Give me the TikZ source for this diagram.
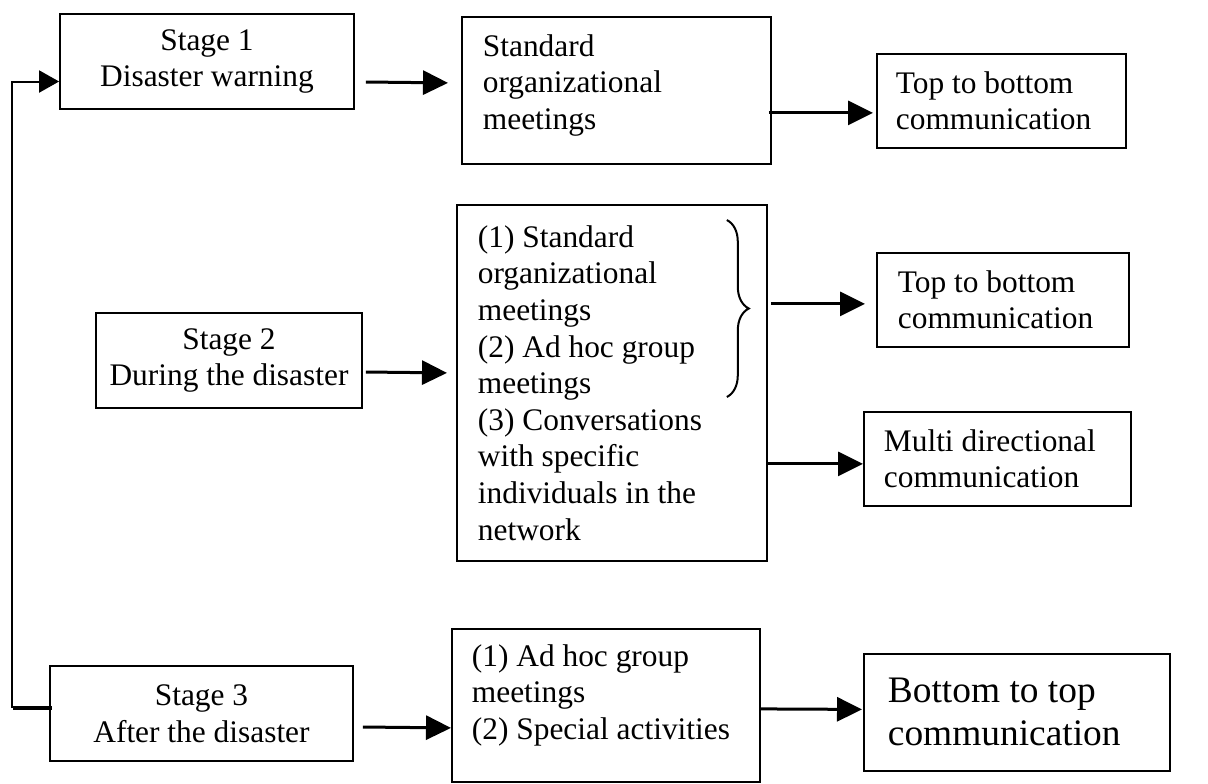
\documentclass[tikz,border=0pt]{standalone}
\usepackage{fontspec}
\setmainfont{Liberation Serif}
\usetikzlibrary{positioning}
\usetikzlibrary{arrows.meta}
\usetikzlibrary{decorations.pathreplacing}

\begin{document}
\begin{tikzpicture}[x=0.5pt,y=-0.5pt,
 box/.style={draw,line width=0.9pt,inner ysep=0pt,font=\fontsize{15.7pt}{18.3pt}\selectfont},
 stage/.style={box,align=center,inner xsep=0pt},
 list/.style={box,align=flush left,anchor=north west,inner xsep=10pt},
 arr/.style={line width=1.5pt,-{Triangle[length=12.5pt,width=12pt]}}]
 \useasboundingbox (0,0) rectangle (1208,783);
 % stages
 \node[stage,minimum width=147pt,minimum height=47.5pt] (s1) at (207,61.5) {Stage 1\\Disaster warning};
 \node[stage,minimum width=133pt,minimum height=47.5pt] (s2) at (229,360.5) {Stage 2\\During the disaster};
 \node[stage,minimum width=151.5pt,minimum height=47.5pt] (s3) at (201.5,713.5) {Stage 3\\After the disaster};
 % channels
 \node[list,inner xsep=10.5pt] (a1) at (461,16) {\parbox[c][73.5pt][t]{133.5pt}{\raggedright\vspace*{8.8pt}Standard\\organizational\\meetings}};
 \node[list,inner xsep=10.5pt,text width=134pt,minimum height=178pt] (a2) at (456,204) {(1) Standard\\organizational\\meetings\\(2) Ad hoc group\\meetings\\(3) Conversations\\with specific\\individuals in the\\network};
 \node[list] (a3) at (451,628) {\parbox[c][76.5pt][t]{134pt}{\raggedright\vspace*{7.8pt}(1) Ad hoc group\\meetings\\(2) Special activities}};
 % communication
 \node[list,inner xsep=9.5pt,text width=105.5pt,minimum height=47pt] (t1) at (876,53) {Top to bottom\\communication};
 \node[list,inner xsep=10.5pt,text width=105pt,minimum height=47pt] (t2) at (876,252) {Top to bottom\\communication};
 \node[list,text width=113.5pt,minimum height=47pt] (m2) at (863,411) {Multi directional\\communication};
 \node[list,inner xsep=12pt,text width=129pt,minimum height=58.5pt,font=\fontsize{18.7pt}{21.5pt}\selectfont] (b3) at (863,653) {Bottom to top\\communication};
 % arrows
 \draw[arr] ([shift={(11,20.5)}]s1.east) -- ([shift={(-13,-7.5)}]a1.west);
 \draw[arr] ([shift={(-3,22.5)}]a1.east) -- ([shift={(-3,12)}]t1.west);
 \draw[arr] ([shift={(3,11.5)}]s2.east) -- ([shift={(-9,-10)}]a2.west);
 \draw[line width=1pt,decorate,decoration={brace,amplitude=11pt}] ([shift={(-41,16)}]a2.north east) -- ([shift={(-41,193)}]a2.north east);
 \draw[arr] ([shift={(3,-79)}]a2.east) -- ([shift={(-11,4)}]t2.west);
 \draw[arr] ([shift={(-1,81)}]a2.east) -- ([shift={(0,5)}]m2.west);
 \draw[arr] ([shift={(9,13.5)}]s3.east) -- ([shift={(0,22.5)}]a3.west);
 \draw[arr] ([shift={(0,3.5)}]a3.east) -- ([shift={(-1,-3)}]b3.west);
 % back to stage 1
 \draw[line width=1.8pt] ([shift={(-36,-5.5)}]s3.west) -- ([shift={(3,-5.5)}]s3.west);
 \draw[line width=1pt,-{Triangle[length=10pt,width=11pt]}] ([shift={(-37,-5.5)}]s3.west) |- ([yshift=-10pt]s1.west);
\end{tikzpicture}
\end{document}
